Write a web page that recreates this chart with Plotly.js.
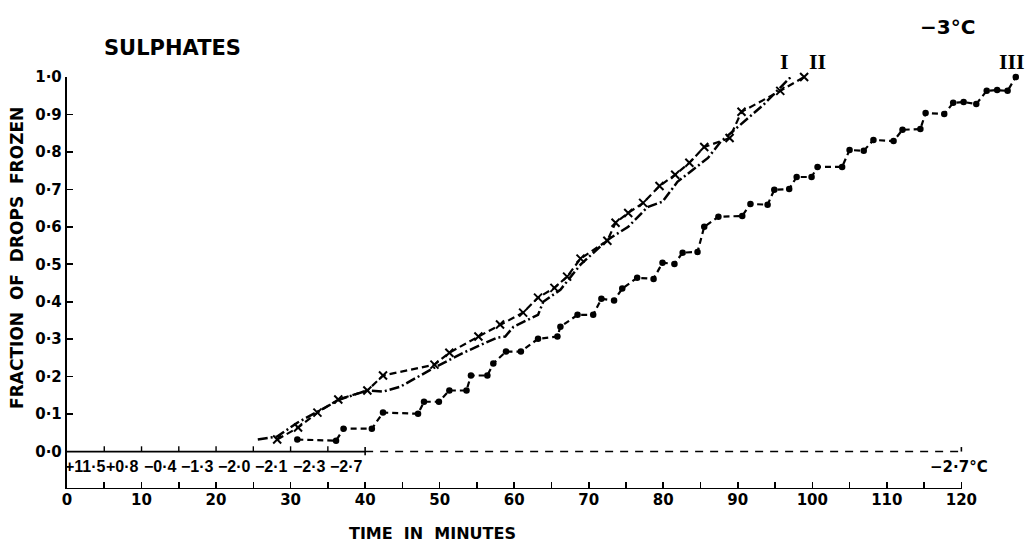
<!DOCTYPE html>
<html>
<head>
<meta charset="utf-8">
<script src="https://cdn.plot.ly/plotly-3.0.1.min.js"></script>
<style>
html,body{margin:0;padding:0;background:#fff;}
#chart{width:1034px;height:544px;}
</style>
</head>
<body>
<div id="chart"></div>
<script>
// ---- Data ----
// Curve I (dash-dot line)
const timeI = [25.6, 28.2, 30.9, 33.6, 36.6, 40.3, 42.4, 44.7, 49.3, 53.2, 57.7, 58.8, 59.9, 63.2, 63.9, 66.2, 68.9, 72.5, 75.3, 77.9, 79.9, 81.9, 84.0, 86.0, 87.7, 89.9, 93.4, 97.1];
const fracI = [0.032, 0.040, 0.077, 0.107, 0.139, 0.163, 0.160, 0.173, 0.224, 0.264, 0.304, 0.307, 0.333, 0.365, 0.400, 0.432, 0.499, 0.565, 0.600, 0.653, 0.667, 0.720, 0.752, 0.784, 0.827, 0.864, 0.925, 1.000];

// Curve II (dashed line, crosses)
const timeII = [28.2, 31.0, 33.6, 36.4, 40.3, 42.4, 49.3, 51.3, 55.2, 58.1, 61.2, 63.2, 65.4, 67.1, 68.9, 72.5, 73.6, 75.3, 77.3, 79.5, 81.6, 83.5, 85.5, 88.9, 90.5, 95.7, 98.9];
const fracII = [0.032, 0.064, 0.104, 0.139, 0.163, 0.203, 0.232, 0.264, 0.307, 0.339, 0.371, 0.411, 0.437, 0.467, 0.515, 0.563, 0.611, 0.637, 0.664, 0.709, 0.739, 0.771, 0.813, 0.837, 0.907, 0.963, 1.000];

// Curve III (dashed line, dots)
const timeIII = [30.9, 36.1, 37.1, 40.9, 42.4, 47.1, 47.9, 49.9, 51.3, 53.6, 54.2, 56.4, 57.2, 58.9, 60.9, 63.2, 65.8, 66.2, 68.5, 70.6, 71.7, 73.4, 74.5, 76.5, 78.7, 79.9, 81.5, 82.6, 84.6, 85.5, 87.4, 90.6, 91.7, 94.0, 94.9, 96.9, 97.9, 99.9, 100.7, 104.0, 105.0, 106.9, 108.2, 110.9, 112.1, 114.5, 115.2, 117.7, 118.9, 120.3, 122.0, 123.4, 124.8, 126.2, 127.3];
const fracIII = [0.032, 0.029, 0.061, 0.061, 0.104, 0.101, 0.133, 0.133, 0.163, 0.163, 0.203, 0.203, 0.235, 0.267, 0.267, 0.301, 0.307, 0.333, 0.365, 0.365, 0.408, 0.403, 0.435, 0.464, 0.461, 0.504, 0.501, 0.531, 0.533, 0.600, 0.627, 0.629, 0.661, 0.659, 0.699, 0.701, 0.733, 0.733, 0.760, 0.760, 0.805, 0.803, 0.832, 0.829, 0.859, 0.861, 0.904, 0.901, 0.931, 0.933, 0.928, 0.963, 0.965, 0.963, 1.000];

// Axis ticks and labels
const xTickVals = [0, 10, 20, 30, 40, 50, 60, 70, 80, 90, 100, 110, 120];
const xMinorVals = [5, 15, 25, 35, 45, 55, 65, 75, 85, 95, 105, 115];
const yTickVals = [0, 0.1, 0.2, 0.3, 0.4, 0.5, 0.6, 0.7, 0.8, 0.9, 1.0];
const yTickText = ["0·0", "0·1", "0·2", "0·3", "0·4", "0·5", "0·6", "0·7", "0·8", "0·9", "1·0"];

// Temperatures (°C) recorded in each 5-minute interval from 0 to 40 min
const intervalStarts = [0, 5, 10, 15, 20, 25, 30, 35];
const intervalTemps = ["+11·5", "+0·8", "−0·4", "−1·3", "−2·0", "−2·1", "−2·3", "−2·7"];
const zeroLineTicks = [5, 10, 15, 20, 25, 30, 35];

// ---- Styling ----
const FONT = "DejaVu Sans, Liberation Sans, sans-serif";
const NARROW = "Liberation Sans, Arial, sans-serif";
const SERIF = "Liberation Serif, DejaVu Serif, serif";

const traces = [
  {
    x: timeIII, y: fracIII, type: "scatter", mode: "lines+markers",
    line: {color: "#000", width: 2.2, dash: "6px,4px"},
    marker: {symbol: "circle", size: 6.5, color: "#000"},
    cliponaxis: false, hoverinfo: "skip", name: "III"
  },
  {
    x: timeII, y: fracII, type: "scatter", mode: "lines+markers",
    line: {color: "#000", width: 2.2, dash: "7px,4px"},
    marker: {symbol: "x-thin", size: 8, color: "#000", line: {color: "#000", width: 2}},
    cliponaxis: false, hoverinfo: "skip", name: "II"
  },
  {
    x: timeI, y: fracI, type: "scatter", mode: "lines",
    line: {color: "#000", width: 2.5, dash: "10px,3px,2px,3px"},
    cliponaxis: false, hoverinfo: "skip", name: "I"
  }
];

const shapes = [];
// bottom axis line 0..120
shapes.push({type: "line", xref: "x", yref: "y", x0: 0, x1: 120, y0: -0.1, y1: -0.1, line: {color: "#000", width: 2.2}});
// zero line: solid to 40 min, dashed afterwards
shapes.push({type: "line", xref: "x", yref: "y", x0: 0, x1: 40, y0: 0, y1: 0, line: {color: "#000", width: 1.8}});
shapes.push({type: "line", xref: "x", yref: "y", x0: 40, x1: 120, y0: 0, y1: 0, line: {color: "#000", width: 1.6, dash: "8px,7px"}});
shapes.push({type: "line", xref: "x", yref: "y", x0: 120, x1: 120, y0: 0, y1: 0.012, line: {color: "#000", width: 1.6}});
shapes.push({type: "line", xref: "x", yref: "y", x0: 40, x1: 40, y0: -0.01, y1: 0.012, line: {color: "#000", width: 1.6}});
zeroLineTicks.forEach(function (t) {
  shapes.push({type: "line", xref: "x", yref: "y", x0: t, x1: t, y0: 0, y1: 0.014, line: {color: "#000", width: 1.4}});
});

const annotations = [];
function addText(text, xref, x, yref, y, size, family, extra) {
  const a = Object.assign({
    text: text, xref: xref, x: x, yref: yref, y: y, showarrow: false,
    xanchor: "center", yanchor: "middle",
    font: {family: family, size: size, color: "#000", weight: "bold"}
  }, extra || {});
  annotations.push(a);
}
// temperature labels along the bottom band
intervalStarts.forEach(function (t0, i) {
  addText(intervalTemps[i], "x", t0 + 2.5, "y", -0.04, 16, NARROW);
});
addText("−2·7°C", "x", 119.7, "y", -0.04, 15, FONT);
addText("SULPHATES", "paper", 0.1101, "paper", 1.070, 21, FONT);
addText("−3°C", "paper", 0.9228, "paper", 1.1212, 20, FONT);
addText("I", "paper", 0.7519, "paper", 1.0388, 22, SERIF);
addText("II", "paper", 0.7865, "paper", 1.0388, 22, SERIF);
addText("III", "paper", 0.9910, "paper", 1.0388, 22, SERIF);
addText("TIME  IN  MINUTES", "paper", 0.383, "paper", -0.108, 16, FONT);
addText("FRACTION  OF  DROPS  FROZEN", "paper", -0.0524, "paper", 0.561, 17, FONT, {textangle: -90});

const layout = {
  width: 1034, height: 544,
  margin: {l: 67, r: 13.4, t: 77, b: 54.5, pad: 0},
  paper_bgcolor: "#fff", plot_bgcolor: "#fff",
  showlegend: false,
  xaxis: {
    range: [0, 128], showline: false, showgrid: false, zeroline: false,
    tickmode: "array", tickvals: xTickVals,
    ticks: "inside", ticklen: 7, tickwidth: 1.6, tickcolor: "#000",
    minor: {tickmode: "array", tickvals: xMinorVals, ticks: "inside", ticklen: 7, tickwidth: 1.6, tickcolor: "#000", showgrid: false},
    tickfont: {family: FONT, size: 15, color: "#000", weight: "bold"},
    fixedrange: true
  },
  yaxis: {
    range: [-0.1, 1.0], showline: true, linecolor: "#000", linewidth: 2.2,
    showgrid: false, zeroline: false,
    tickmode: "array", tickvals: yTickVals, ticktext: yTickText,
    ticks: "inside", ticklen: 6, tickwidth: 1.6, tickcolor: "#000",
    tickfont: {family: FONT, size: 15, color: "#000", weight: "bold"},
    fixedrange: true
  },
  shapes: shapes,
  annotations: annotations
};

Plotly.newPlot("chart", traces, layout, {displayModeBar: false, staticPlot: true});
</script>
</body>
</html>
